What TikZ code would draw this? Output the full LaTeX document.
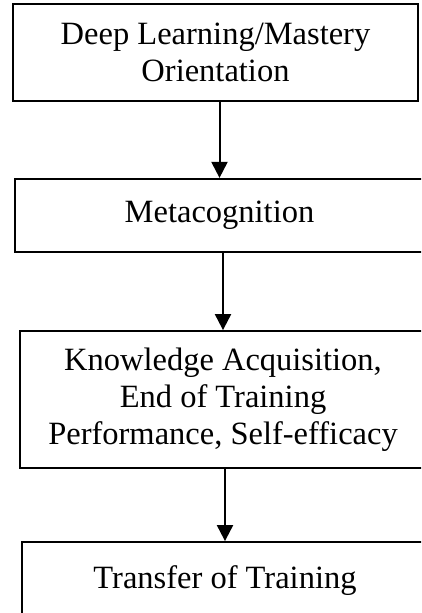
\documentclass[tikz,border=0pt]{standalone}
\usepackage{fontspec}
\setmainfont{Liberation Serif}
\usetikzlibrary{arrows.meta}
\begin{document}
\begin{tikzpicture}[x=1pt,y=-1pt,
  box/.style={draw=black, line width=2.2pt, rectangle, inner sep=0pt, align=center,
    font=\fontsize{32.5}{37}\selectfont},
  arr/.style={draw=black, line width=2pt, -{Triangle[width=16pt,length=16pt]}}]
\useasboundingbox (0,0) rectangle (421,613);
\clip (0,0) rectangle (421,613);
\node[box, minimum width=405pt, minimum height=97pt] (b1) at (215.5,52.5)
  {Deep Learning/Mastery\\Orientation};
\node[box, minimum width=409pt, minimum height=73pt] (b2) at (219.5,215.5)
  {Metacognition};
\node[box, line width=1.8pt, minimum width=406pt, minimum height=137pt] (b3) at (223,399.5)
  {Knowledge Acquisition,\\End of Training\\Performance, Self-efficacy};
\node[box, line width=1.8pt, minimum width=406pt, minimum height=78pt] (b4) at (225,581)
  {Transfer of Training};
\draw[arr] (b1.south -| b2.north) -- (b2.north);
\draw[arr] (b2.south -| b3.north) -- (b3.north);
\draw[arr] (b3.south -| b4.north) -- (b4.north);
\end{tikzpicture}
\end{document}
